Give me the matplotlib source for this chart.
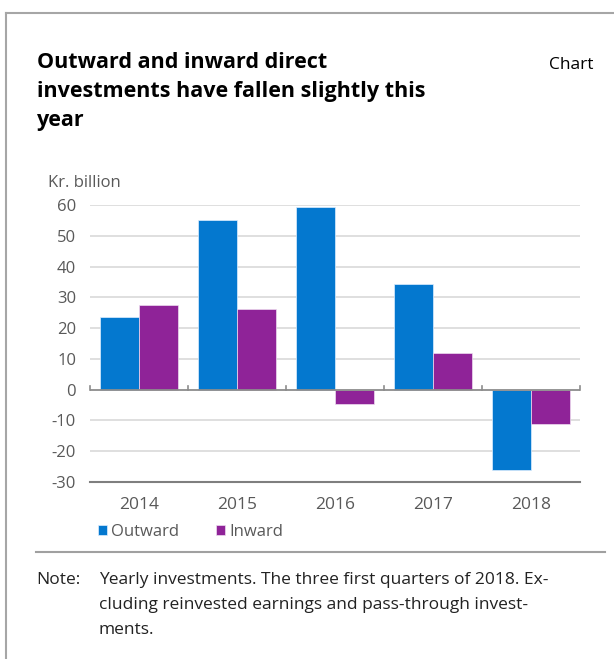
import matplotlib
matplotlib.use("Agg")
import matplotlib.pyplot as plt
from matplotlib.lines import Line2D
import numpy as np

years = ["2014", "2015", "2016", "2017", "2018"]
outward = [23.6, 55.0, 59.4, 34.4, -26.1]
inward = [27.4, 26.1, -4.7, 11.8, -11.2]
yticks = [-30, -20, -10, 0, 10, 20, 30, 40, 50, 60]

BLUE = "#0478cf"
PURPLE = "#8f2398"
GRAY_TXT = "#595959"

plt.rcParams['font.family'] = ['Open Sans', 'DejaVu Sans']

W, H = 614, 659
fig = plt.figure(figsize=(W/100, H/100), dpi=100)

def fx(px): return px / W
def fy(py): return 1 - py / H

# frame lines
fig.add_artist(Line2D([fx(6), fx(6)], [fy(13), fy(659)], color="#a6a6a6", lw=1.5))
fig.add_artist(Line2D([fx(6), fx(614)], [fy(13), fy(13)], color="#a6a6a6", lw=1.5))
fig.add_artist(Line2D([fx(36), fx(605)], [fy(552), fy(552)], color="#a0a0a0", lw=1.5))

# title
title_lines = ["Outward and inward direct", "investments have fallen slightly this", "year"]
for i, t in enumerate(title_lines):
    fig.text(fx(37), fy(68 + i * 29), t, fontsize=15.5, fontweight="bold",
             color="black", ha="left", va="baseline")
fig.text(fx(549), fy(69), "Chart", fontsize=12.5, color="black", ha="left", va="baseline")

ax = fig.add_axes([fx(90), fy(482), fx(580) - fx(90), fy(205) - fy(482)])
x = np.arange(len(years))
bw = 0.4
b1 = ax.bar(x - bw/2, outward, bw, color=BLUE, edgecolor="#ddeeff", linewidth=0.5, zorder=3, label="Outward")
b2 = ax.bar(x + bw/2, inward, bw, color=PURPLE, edgecolor="#eeddf0", linewidth=0.5, zorder=3, label="Inward")

ax.set_xlim(-0.5, len(years) - 0.5)
ax.set_ylim(-30, 60)
ax.set_yticks(yticks)
ax.set_yticklabels([str(v) for v in yticks])
for v in yticks:
    if v not in (0, -30):
        ax.axhline(v, color="#d9d9d9", lw=1.2, zorder=1)
ax.axhline(0, color="#8c8c8c", lw=1.3, zorder=4)
ax.axhline(-30, color="#7f7f7f", lw=1.5, zorder=4, clip_on=False)
# category boundary ticks on zero line
for b in np.arange(-0.5, len(years), 1.0):
    ax.plot([b, b], [0, 1.3], color="#8c8c8c", lw=1.2, zorder=4, clip_on=False)

for s in ax.spines.values():
    s.set_visible(False)
ax.tick_params(axis="y", length=0, pad=10, labelsize=12, labelcolor=GRAY_TXT)
ax.tick_params(axis="x", length=0, pad=11, labelsize=12.5, labelcolor=GRAY_TXT)
ax.set_xticks(x)
ax.set_xticklabels(years)

fig.text(fx(48), fy(183), "Kr. billion", fontsize=12, color=GRAY_TXT, ha="left", va="center")

leg = fig.legend(handles=[b1, b2], labels=["Outward", "Inward"],
                 loc="center left", bbox_to_anchor=(fx(83), fy(532)), ncol=2,
                 frameon=False, fontsize=12, handlelength=0.55, handleheight=0.55,
                 handletextpad=0.25, columnspacing=2.2, labelcolor=GRAY_TXT)

# note
fig.text(fx(36), fy(580), "Note:", fontsize=12.5, color="#222222", ha="left", va="center")
note_lines = ["Yearly investments. The three first quarters of 2018. Ex-",
              "cluding reinvested earnings and pass-through invest-",
              "ments."]
for i, t in enumerate(note_lines):
    fig.text(fx(99), fy(580 + i * 25), t, fontsize=12.5, color="#222222", ha="left", va="center")

fig.savefig("out.png", dpi=100, facecolor="white")
